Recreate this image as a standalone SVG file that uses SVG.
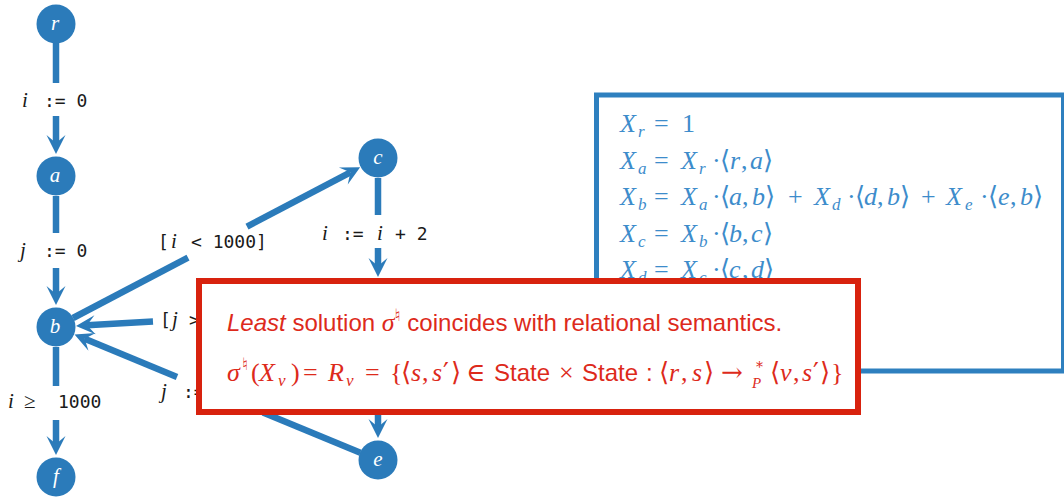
<svg xmlns="http://www.w3.org/2000/svg" width="1064" height="498" viewBox="0 0 1064 498">
<style>
.edge{stroke:#2b7bba;stroke-width:6.5;fill:none}
.arr{marker-end:url(#ah)}
.node{fill:#2b7bba}
.nl{font-family:"Liberation Serif","DejaVu Serif",serif;font-style:italic;font-size:21px;fill:#ffffff;text-anchor:middle}
.lbl{font-family:"DejaVu Sans Mono","Liberation Mono",monospace;font-size:18px;fill:#1a1a1a}
.mi{font-family:"Liberation Serif","DejaVu Serif",serif;font-style:italic;font-size:21px}
.mr{font-family:"Liberation Serif","DejaVu Serif",serif;font-style:normal;font-size:21px}
.eq{font-family:"Liberation Serif","DejaVu Serif",serif;font-size:26px;fill:#3d8ccb}
.red{font-family:"Liberation Serif","DejaVu Serif",serif;font-size:26px;fill:#dd2a1b}
.i{font-style:italic}
.sub{font-size:17px;font-style:italic}
.sans{font-family:"Liberation Sans",Arial,sans-serif;font-style:normal;font-size:24px}
.sym{font-family:"DejaVu Serif","Liberation Serif",serif;font-style:normal}
.sh{font-family:"DejaVu Sans","DejaVu Serif",sans-serif;font-style:normal;font-size:17px}
</style>
<defs>
<marker id="ah" markerUnits="userSpaceOnUse" viewBox="-20 -10 21 20" refX="-11" refY="0" markerWidth="21" markerHeight="20" orient="auto">
<path d="M-19,-9.5 L0,0 L-19,9.5 L-11,0 Z" fill="#2b7bba"/>
</marker>
</defs>
<rect width="1064" height="498" fill="#ffffff"/>

<g id="equations">
<rect x="596.5" y="95" width="467" height="276" fill="#ffffff" stroke="#2e80bf" stroke-width="5"/>
<text class="eq" y="132"><tspan class="i" x="620">X</tspan><tspan class="sub" x="638" dy="5">r</tspan><tspan x="654" dy="-5">=</tspan><tspan x="682">1</tspan></text>
<text class="eq" y="169"><tspan class="i" x="620">X</tspan><tspan class="sub" x="638" dy="5">a</tspan><tspan x="654" dy="-5">=</tspan><tspan class="i" x="681">X</tspan><tspan class="sub" x="699" dy="5">r</tspan><tspan x="712" dy="-5">·</tspan><tspan class="sym" x="720">⟨</tspan><tspan class="i" x="730">r</tspan><tspan x="741">,</tspan><tspan class="i" x="750">a</tspan><tspan class="sym" x="763">⟩</tspan></text>
<text class="eq" y="205"><tspan class="i" x="620">X</tspan><tspan class="sub" x="638" dy="5">b</tspan><tspan x="654" dy="-5">=</tspan><tspan class="i" x="681">X</tspan><tspan class="sub" x="699" dy="5">a</tspan><tspan x="712" dy="-5">·</tspan><tspan class="sym" x="720">⟨</tspan><tspan class="i" x="729">a</tspan><tspan x="742">,</tspan><tspan class="i" x="752">b</tspan><tspan class="sym" x="765">⟩</tspan><tspan x="788">+</tspan><tspan class="i" x="814">X</tspan><tspan class="sub" x="832" dy="5">d</tspan><tspan x="847" dy="-5">·</tspan><tspan class="sym" x="855">⟨</tspan><tspan class="i" x="864">d</tspan><tspan x="877">,</tspan><tspan class="i" x="887">b</tspan><tspan class="sym" x="900">⟩</tspan><tspan x="921">+</tspan><tspan class="i" x="946">X</tspan><tspan class="sub" x="965" dy="5">e</tspan><tspan x="980" dy="-5">·</tspan><tspan class="sym" x="988">⟨</tspan><tspan class="i" x="998">e</tspan><tspan x="1010">,</tspan><tspan class="i" x="1020">b</tspan><tspan class="sym" x="1033">⟩</tspan></text>
<text class="eq" y="242"><tspan class="i" x="620">X</tspan><tspan class="sub" x="638" dy="5">c</tspan><tspan x="654" dy="-5">=</tspan><tspan class="i" x="681">X</tspan><tspan class="sub" x="699" dy="5">b</tspan><tspan x="712" dy="-5">·</tspan><tspan class="sym" x="720">⟨</tspan><tspan class="i" x="729">b</tspan><tspan x="742">,</tspan><tspan class="i" x="751">c</tspan><tspan class="sym" x="763">⟩</tspan></text>
<text class="eq" y="278"><tspan class="i" x="620">X</tspan><tspan class="sub" x="638" dy="5">d</tspan><tspan x="654" dy="-5">=</tspan><tspan class="i" x="681">X</tspan><tspan class="sub" x="699" dy="5">c</tspan><tspan x="712" dy="-5">·</tspan><tspan class="sym" x="720">⟨</tspan><tspan class="i" x="729">c</tspan><tspan x="742">,</tspan><tspan class="i" x="751">d</tspan><tspan class="sym" x="764">⟩</tspan></text>
</g>

<g id="connectors">
<line class="edge" x1="56" y1="43" x2="56" y2="83"/>
<line class="edge arr" x1="56" y1="116" x2="56" y2="143"/>
<line class="edge" x1="56" y1="196" x2="56" y2="233"/>
<line class="edge arr" x1="56" y1="268" x2="56" y2="294"/>
<line class="edge" x1="56" y1="347" x2="56" y2="386"/>
<line class="edge arr" x1="56" y1="420" x2="56" y2="444"/>
<line class="edge" x1="73" y1="318" x2="188" y2="257.6"/>
<line class="edge arr" x1="247" y1="226.6" x2="350.4" y2="172.3"/>
<line class="edge" x1="378" y1="178" x2="378" y2="215"/>
<line class="edge arr" x1="378" y1="248" x2="378" y2="266"/>
<line class="edge arr" x1="378" y1="400" x2="378" y2="427"/>
<line class="edge arr" x1="153" y1="321.4" x2="87" y2="325.3"/>
<line class="edge" x1="360.4" y1="452.7" x2="263" y2="412.5"/>
<line class="edge arr" x1="177" y1="376.9" x2="84.7" y2="338.8"/>
</g>

<g id="edge-labels" class="lbl">
<text y="107"><tspan class="mi" x="22">i</tspan><tspan x="44">:= 0</tspan></text>
<text y="257"><tspan class="mi" x="20">j</tspan><tspan x="44">:= 0</tspan></text>
<text y="408"><tspan class="mi" x="8">i</tspan><tspan class="mr" x="24">≥</tspan><tspan x="58">1000</tspan></text>
<text y="248"><tspan x="158">[</tspan><tspan class="mi" x="171">i</tspan><tspan x="191">&lt; 1000]</tspan></text>
<text y="240"><tspan class="mi" x="322">i</tspan><tspan x="342">:=</tspan><tspan class="mi" x="377">i</tspan><tspan x="395">+ 2</tspan></text>
<text y="326"><tspan x="160">[</tspan><tspan class="mi" x="172">j</tspan><tspan x="189">&gt;</tspan></text>
<text y="398"><tspan class="mi" x="161">j</tspan><tspan x="183">:=</tspan></text>
</g>

<g id="node-r"><circle class="node" cx="56" cy="24" r="19.5"/><text class="nl" x="55" y="30">r</text></g>
<g id="node-a"><circle class="node" cx="56" cy="176" r="19.5"/><text class="nl" x="55" y="182">a</text></g>
<g id="node-b"><circle class="node" cx="56" cy="327" r="19.5"/><text class="nl" x="55" y="333">b</text></g>
<g id="node-f"><circle class="node" cx="56" cy="477" r="19.5"/><text class="nl" x="56" y="483">f</text></g>
<g id="node-c"><circle class="node" cx="378" cy="158" r="19.5"/><text class="nl" x="378" y="164">c</text></g>
<g id="node-e"><circle class="node" cx="378" cy="460" r="19.5"/><text class="nl" x="378" y="466">e</text></g>

<g id="note">
<rect x="199" y="281" width="659" height="131" fill="#ffffff" stroke="#d8220e" stroke-width="6"/>
<text class="red" x="227" y="331"><tspan class="sans" style="font-style:italic">Least</tspan><tspan class="sans"> solution </tspan><tspan class="i">σ</tspan><tspan class="sh" dy="-10">♮</tspan><tspan class="sans" dy="10"> coincides with relational semantics.</tspan></text>
<text class="red" y="381"><tspan class="i" x="227">σ</tspan><tspan class="sh" x="242" dy="-11">♮</tspan><tspan x="251" dy="11">(</tspan><tspan class="i" x="259">X</tspan><tspan class="sub" x="278" dy="5">v</tspan><tspan x="291" dy="-5">)</tspan><tspan x="303">=</tspan><tspan class="i" x="328">R</tspan><tspan class="sub" x="346" dy="5">v</tspan><tspan x="365" dy="-5">=</tspan><tspan x="390">{</tspan><tspan class="sym" x="401">⟨</tspan><tspan class="i" x="411">s</tspan><tspan x="422">,</tspan><tspan class="i" x="432">s</tspan><tspan class="sym" x="443">′</tspan><tspan class="sym" x="451">⟩</tspan><tspan class="sym" x="466">∈</tspan><tspan class="sans" x="494">State</tspan><tspan x="559">×</tspan><tspan class="sans" x="582">State</tspan><tspan class="sans" x="646">:</tspan><tspan class="sym" x="659">⟨</tspan><tspan class="i" x="669">r</tspan><tspan x="681">,</tspan><tspan class="i" x="692">s</tspan><tspan class="sym" x="704">⟩</tspan><tspan class="sym" x="721">→</tspan><tspan class="sym" x="756" dy="-9" style="font-size:14px">*</tspan><tspan class="sub" x="752" dy="16" style="font-size:15px">P</tspan><tspan class="sym" x="770" dy="-7">⟨</tspan><tspan class="i" x="780">v</tspan><tspan x="793">,</tspan><tspan class="i" x="802">s</tspan><tspan class="sym" x="813">′</tspan><tspan class="sym" x="820">⟩</tspan><tspan x="831">}</tspan></text>
</g>
</svg>
